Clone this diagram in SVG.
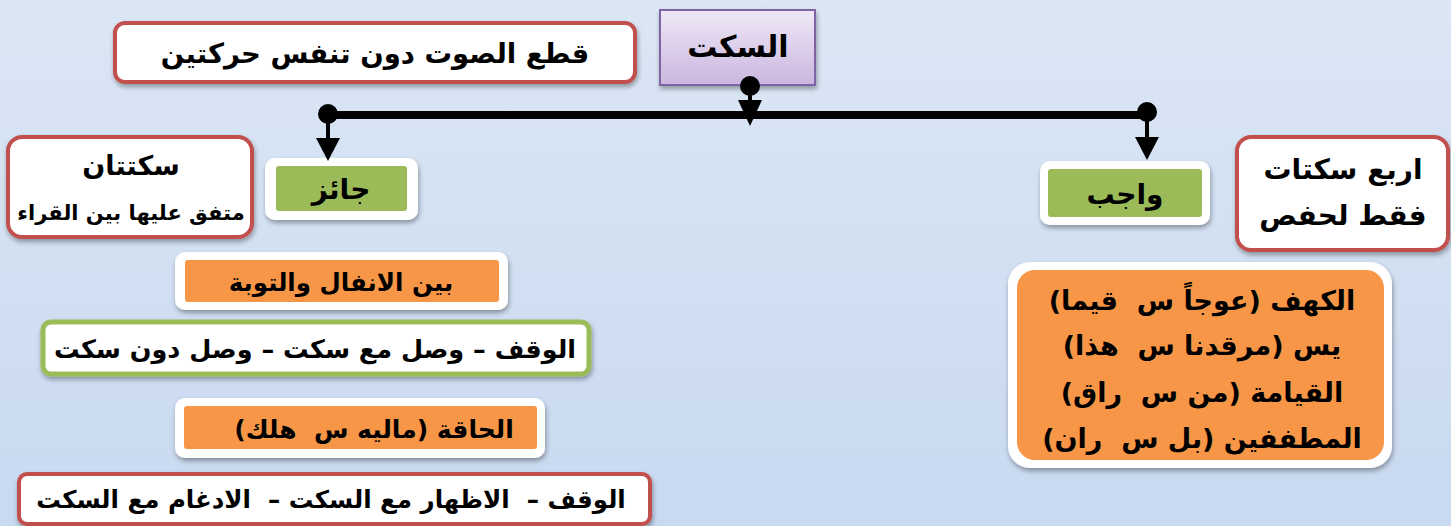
<svg xmlns="http://www.w3.org/2000/svg" width="1451" height="526" viewBox="0 0 1451 526">
<defs>
<linearGradient id="bg" x1="0" y1="0" x2="0" y2="1">
<stop offset="0" stop-color="#dce7f5"/>
<stop offset="1" stop-color="#c8d9f0"/>
</linearGradient>
<linearGradient id="purp" x1="0" y1="0" x2="0" y2="1">
<stop offset="0" stop-color="#efe8f6"/>
<stop offset="1" stop-color="#cbb6df"/>
</linearGradient>
<filter id="sh" x="-10%" y="-20%" width="120%" height="150%">
<feDropShadow dx="1" dy="3" stdDeviation="2.5" flood-color="#000" flood-opacity="0.35"/>
</filter>
</defs>
<style>
text{font-family:"DejaVu Sans","Liberation Sans",sans-serif;font-weight:bold;fill:#000;text-anchor:middle;direction:rtl;white-space:pre}
.red{fill:#fff;stroke:#c0504d;stroke-width:4}
.wht{fill:#fff}
.grn{fill:#9bbb59}
.org{fill:#f79646}
.line{stroke:#000;stroke-width:8;fill:none}
.stem{stroke:#000;stroke-width:4;fill:none}
</style>
<rect width="1451" height="526" fill="url(#bg)"/>

<g id="sakt">
<rect x="660" y="10" width="155" height="75" fill="url(#purp)" stroke="#8064a2" stroke-width="2" filter="url(#sh)"/>
<text x="738" y="57" font-size="30">السكت</text>
</g>

<g id="definition">
<rect class="red" x="115" y="23" width="520" height="59" rx="10" filter="url(#sh)"/>
<text x="375" y="63" font-size="27.5">قطع الصوت دون تنفس حركتين</text>
</g>

<g id="jaiz">
<rect class="wht" x="265" y="158" width="153" height="62" rx="10" filter="url(#sh)"/>
<rect class="grn" x="276" y="166" width="131" height="45" rx="3"/>
<text x="341" y="199" font-size="28">جائز</text>
</g>

<g id="saktatan">
<rect class="red" x="8" y="137" width="244" height="100" rx="14" filter="url(#sh)"/>
<text x="131" y="175" font-size="27">سكتتان</text>
<text x="131" y="220" font-size="21">متفق عليها بين القراء</text>
</g>

<g id="wajib">
<rect class="wht" x="1040" y="161" width="170" height="64" rx="10" filter="url(#sh)"/>
<rect class="grn" x="1048" y="169" width="154" height="48" rx="3"/>
<text x="1125" y="204" font-size="28">واجب</text>
</g>

<g id="arba">
<rect class="red" x="1237" y="137" width="211" height="113" rx="14" filter="url(#sh)"/>
<text x="1343" y="179" font-size="28">اربع سكتات</text>
<text x="1343" y="225" font-size="28">فقط لحفص</text>
</g>

<g id="anfal">
<rect class="wht" x="175" y="252" width="333" height="58" rx="10" filter="url(#sh)"/>
<rect class="org" x="185" y="260" width="314" height="42" rx="3"/>
<text x="341" y="291" font-size="24.5">بين الانفال والتوبة</text>
</g>

<g id="anfal-ways">
<rect x="43" y="322" width="546" height="52" rx="8" fill="#fff" stroke="#9bbb59" stroke-width="5" filter="url(#sh)"/>
<text x="315" y="358" font-size="25.5">الوقف – وصل مع سكت – وصل دون سكت</text>
</g>

<g id="haqqa">
<rect class="wht" x="175" y="398" width="370" height="60" rx="10" filter="url(#sh)"/>
<rect class="org" x="184" y="406" width="353" height="43" rx="3"/>
<text x="374" y="438" font-size="25">الحاقة (ماليه س  هلك)</text>
</g>

<g id="haqqa-ways">
<rect class="red" x="19" y="474" width="631" height="50" rx="8" filter="url(#sh)"/>
<text x="331" y="508" font-size="24.5">الوقف –  الاظهار مع السكت –  الادغام مع السكت</text>
</g>

<g id="hafs-list">
<rect class="wht" x="1008" y="262" width="384" height="206" rx="22" filter="url(#sh)"/>
<rect class="org" x="1017" y="270" width="367" height="190" rx="18"/>
<text x="1202" y="310" font-size="27">الكهف (عوجاً س  قيما)</text>
<text x="1202" y="355" font-size="27">يس (مرقدنا س  هذا)</text>
<text x="1202" y="402" font-size="27">القيامة (من س  راق)</text>
<text x="1202" y="448" font-size="27">المطففين (بل س  ران)</text>
</g>

<g id="connectors">
<line class="line" x1="328" y1="115" x2="1147" y2="115"/>
<circle cx="328" cy="114" r="10"/>
<circle cx="1147" cy="112" r="10"/>
<circle cx="750" cy="86" r="10"/>
<line class="stem" x1="328" y1="114" x2="328" y2="140"/>
<path d="M316,138 L340,138 L328,161 Z"/>
<line class="stem" x1="1147" y1="112" x2="1147" y2="139"/>
<path d="M1135,137 L1159,137 L1147,160 Z"/>
<line class="stem" x1="750" y1="86" x2="750" y2="102"/>
<path d="M738,100 L762,100 L750,126 Z"/>
</g>
</svg>
